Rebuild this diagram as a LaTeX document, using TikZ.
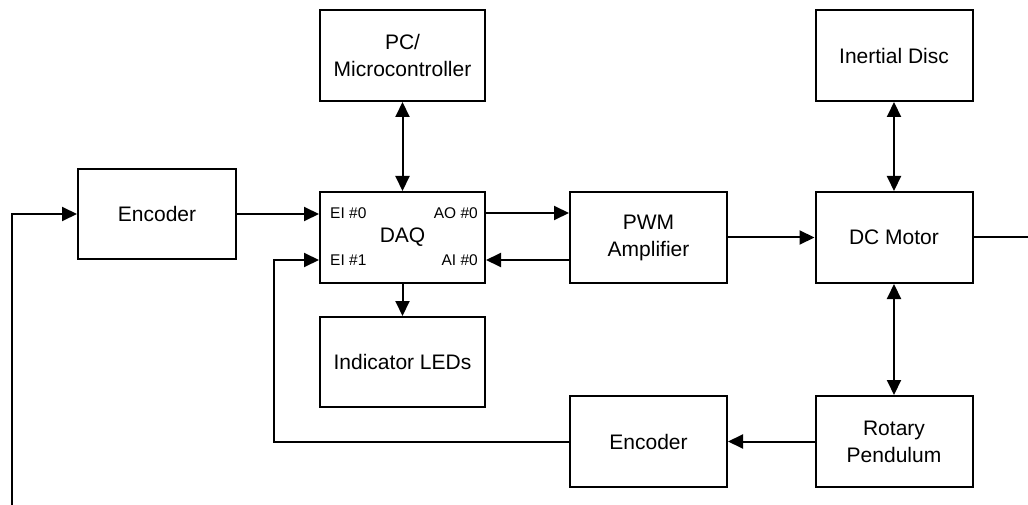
\documentclass[tikz,border=0pt]{standalone}
\usepackage{fontspec}
\setmainfont{Liberation Sans}
\usetikzlibrary{arrows.meta,calc}
\begin{document}
\begin{tikzpicture}[x=1pt,y=-1pt,
  blk/.style={draw,line width=2pt,minimum width=157pt,minimum height=91pt,inner sep=0pt,align=center,font=\fontsize{21}{27}\selectfont},
  wide/.style={blk,minimum width=165pt},
  conn/.style={line width=2pt,-{Triangle[length=15pt,width=14pt]}},
  both/.style={line width=2pt,{Triangle[length=15pt,width=14pt]}-{Triangle[length=15pt,width=14pt]}},
  lbl/.style={font=\fontsize{15.5}{18}\selectfont,inner sep=0pt}]
\useasboundingbox (0,0) rectangle (1028,505);
\node[wide] (pc) at (402.5,55.5) {PC/\\Microcontroller};
\node[blk] (disc) at (894,55.5) {Inertial Disc};
\node[blk,minimum width=158pt,minimum height=90pt] (enc1) at (157,214) {Encoder};
\node[wide] (daq) at (402.5,237.5) {};
\node[blk] (pwm) at (648.5,237.5) {PWM\\Amplifier};
\node[blk] (motor) at (894,237.5) {DC Motor};
\node[wide,minimum height=90pt] (leds) at (402.5,362) {Indicator LEDs};
\node[blk] (enc2) at (648.5,441.5) {Encoder};
\node[blk] (pend) at (894,441.5) {Rotary\\Pendulum};
% DAQ labels
\node[font=\fontsize{21}{24}\selectfont,inner sep=0pt] (daqt) at (daq.center) {DAQ};
\coordinate (ei0) at ($(daq.west)+(0,-24.5)$);
\coordinate (ei1) at ($(daq.west)+(0,22.5)$);
\coordinate (ao0) at ($(daq.east)+(0,-24.5)$);
\coordinate (ai0) at ($(daq.east)+(0,22.5)$);
\node[lbl,anchor=west] (lei0) at ($(ei0)+(11,0)$) {EI \#0};
\node[lbl,anchor=west] (lei1) at ($(ei1)+(11,0)$) {EI \#1};
\node[lbl,anchor=east] (lao0) at ($(ao0)+(-8,0)$) {AO \#0};
\node[lbl,anchor=east] (lai0) at ($(ai0)+(-8,0)$) {AI \#0};
% connectors
\draw[both] (pc.south) -- (daq.north);
\draw[conn] (daq.south) -- (leds.north);
\draw[both] (disc.south) -- (motor.north);
\draw[both] (motor.south) -- (pend.north);
\draw[conn] (enc1.east) -- (enc1.east -| daq.west);
\draw[conn] (ao0) -- (ao0 -| pwm.west);
\draw[conn] (pwm.west |- ai0) -- (ai0);
\draw[conn] (pwm.east) -- (motor.west);
\draw[conn] (pend.west) -- (enc2.east);
\coordinate (bend) at (274,441.5);
\draw[conn] (enc2.west) -- (bend) |- (ei1);
\coordinate (loopL) at (12,505);
\draw[conn] (loopL) |- (enc1.west);
\coordinate (loopR) at (1028,237.5);
\draw[line width=2pt] (motor.east) -- (loopR);
\end{tikzpicture}
\end{document}
